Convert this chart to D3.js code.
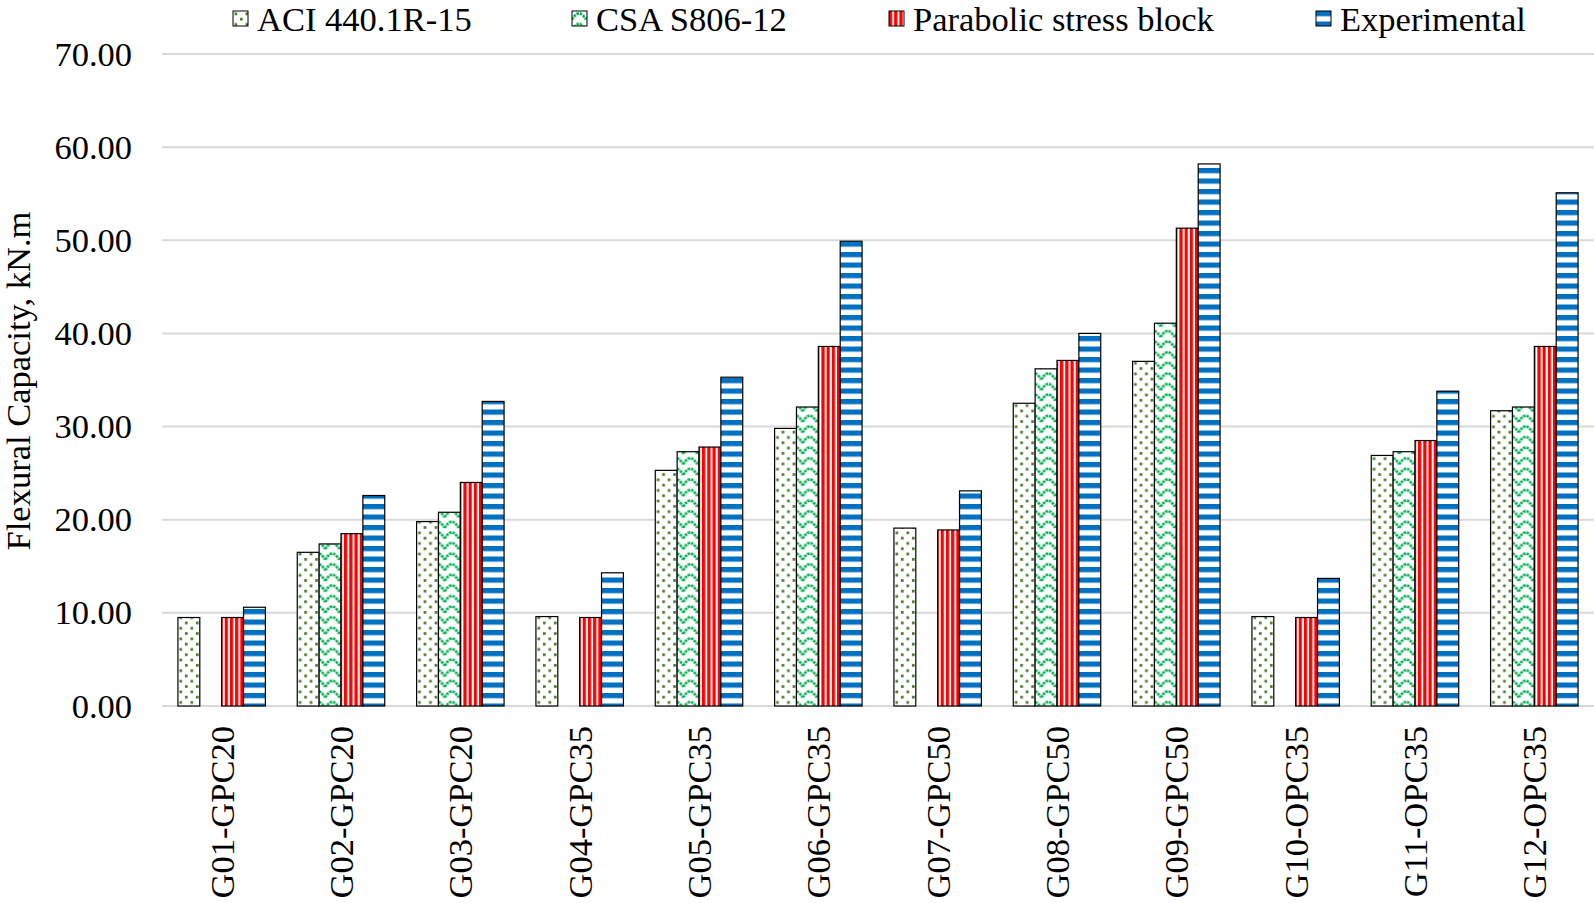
<!DOCTYPE html>
<html>
<head>
<meta charset="utf-8">
<script src="https://cdn.jsdelivr.net/npm/d3@7"></script>
<style>
  html, body { margin: 0; padding: 0; background: #fff; }
  svg { display: block; }
  text { font-family: "Liberation Serif", "Times New Roman", serif; fill: #000; }
</style>
</head>
<body>
<svg id="chart" width="1594" height="903"></svg>
<script>
const categories = ["G01-GPC20","G02-GPC20","G03-GPC20","G04-GPC35","G05-GPC35","G06-GPC35",
                    "G07-GPC50","G08-GPC50","G09-GPC50","G10-OPC35","G11-OPC35","G12-OPC35"];
const seriesNames = ["ACI 440.1R-15","CSA S806-12","Parabolic stress block","Experimental"];
const aci        = [9.5, 16.5, 19.8, 9.6, 25.3, 29.8, 19.1, 32.5, 37.0, 9.6, 26.9, 31.7];
const csa        = [0,   17.4, 20.8, 0,   27.3, 32.1, 0,    36.2, 41.1, 0,   27.3, 32.1];
const parabolic  = [9.5, 18.5, 24.0, 9.5, 27.8, 38.6, 18.9, 37.1, 51.3, 9.5, 28.5, 38.6];
const experimental=[10.6,22.6, 32.7, 14.3,35.3, 49.9, 23.1, 40.0, 58.2, 13.7, 33.8, 55.1];
const yTicks = [0,10,20,30,40,50,60,70];

const svg = d3.select("#chart");
const W = 1594, H = 903;
const margin = {left: 162, right: 0, top: 54, bottom: H - 706};
const fs = 34.5;

// patterns
const defs = svg.append("defs");
// ACI: dots
const pA = defs.append("pattern").attr("id","pA").attr("patternUnits","userSpaceOnUse")
  .attr("width",11).attr("height",10.6);
pA.append("rect").attr("width",11).attr("height",10.6).attr("fill","#fff");
pA.append("rect").attr("x",1.5).attr("y",1.5).attr("width",2.7).attr("height",2.7).attr("fill","#4a7a2a");
pA.append("rect").attr("x",7).attr("y",6.8).attr("width",2.7).attr("height",2.7).attr("fill","#4a7a2a");
// CSA: wave
const pC = defs.append("pattern").attr("id","pC").attr("patternUnits","userSpaceOnUse")
  .attr("width",14).attr("height",10.6);
pC.append("rect").attr("width",14).attr("height",10.6).attr("fill","#fff");
pC.append("path").attr("d","M0,8.5 L2.5,5 L5,2.8 L7,2.3 L9,2.8 L11.5,5 L14,8.5")
  .attr("fill","none").attr("stroke","#00B050").attr("stroke-width",2.6).attr("stroke-dasharray","2.6,0.9");
// Parabolic: vertical stripes
const pP = defs.append("pattern").attr("id","pP").attr("patternUnits","userSpaceOnUse")
  .attr("width",5.2).attr("height",10);
pP.append("rect").attr("width",5.2).attr("height",10).attr("fill","#fff");
pP.append("rect").attr("x",0).attr("width",3.2).attr("height",10).attr("fill","#FF0000");
// Experimental: horizontal stripes
const pE = defs.append("pattern").attr("id","pE").attr("patternUnits","userSpaceOnUse")
  .attr("width",10).attr("height",10.5);
pE.append("rect").attr("width",10).attr("height",10.5).attr("fill","#fff");
pE.append("rect").attr("y",0).attr("width",10).attr("height",5.2).attr("fill","#0070C0");

const fills = ["url(#pA)","url(#pC)","url(#pP)","url(#pE)"];
const data = [aci, csa, parabolic, experimental];

const x0 = d3.scaleBand().domain(categories).range([margin.left, W - margin.right])
  .paddingInner(0.267).paddingOuter(0.1335);
const x1 = d3.scaleBand().domain(d3.range(4)).range([0, x0.bandwidth()]);
const y = d3.scaleLinear().domain([0,70]).range([706, 54]);

// gridlines
svg.append("g").selectAll("line").data(yTicks).join("line")
  .attr("x1", margin.left).attr("x2", W)
  .attr("y1", d => y(d)).attr("y2", d => y(d))
  .attr("stroke","#d9d9d9").attr("stroke-width",2);

// y axis labels
const yAxis = d3.axisLeft(y).tickValues(yTicks).tickFormat(d3.format(".2f")).tickSize(0).tickPadding(0);
const yg = svg.append("g").attr("transform","translate(132,0)").call(yAxis);
yg.select(".domain").remove();
yg.selectAll("text").attr("font-size", fs).attr("font-family","Liberation Serif").attr("fill","#000");

// bars
const groups = svg.append("g").selectAll("g").data(categories).join("g")
  .attr("transform", d => `translate(${x0(d)},0)`);
groups.selectAll("rect").data((c, i) => data.map((s, k) => ({k, v: s[i]})).filter(d => d.v > 0))
  .join("rect")
  .attr("x", d => x1(d.k)).attr("width", x1.bandwidth())
  .attr("y", d => y(d.v)).attr("height", d => y(0) - y(d.v))
  .attr("fill", d => fills[d.k]).attr("stroke","#000").attr("stroke-width",1.2);

// x axis labels
const xAxis = d3.axisBottom(x0).tickSize(0).tickPadding(0);
const xg = svg.append("g").attr("transform","translate(0,706)").call(xAxis);
xg.select(".domain").remove();
xg.selectAll("text")
  .attr("font-size", fs).attr("font-family","Liberation Serif").attr("fill","#000")
  .attr("text-anchor","end").attr("transform","rotate(-90)")
  .attr("x", -20).attr("y", 0).attr("dy","0.35em");

// y axis title
svg.append("text").attr("transform","translate(30,381) rotate(-90)")
  .attr("text-anchor","middle").attr("font-size", fs).text("Flexural Capacity, kN.m");

// legend
const legX = [233, 572, 889, 1316];
const leg = svg.append("g").selectAll("g").data(seriesNames).join("g")
  .attr("transform", (d,i) => `translate(${legX[i]},11)`);
leg.append("rect").attr("width",15).attr("height",15)
  .attr("fill",(d,i) => fills[i]).attr("stroke","#000").attr("stroke-width",1);
leg.append("text").attr("x",24).attr("y",7.5).attr("dy","0.35em")
  .attr("font-size", fs).text(d => d);
</script>
</body>
</html>
